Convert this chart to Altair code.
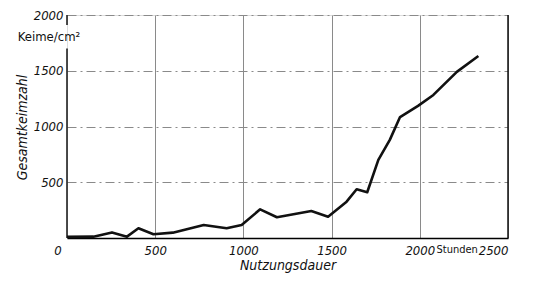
import altair as alt
import pandas as pd

# Data
hours = [0, 150, 255, 340, 405, 490, 600, 775, 905, 990, 1095, 1190, 1385, 1480, 1585, 1642, 1702, 1765, 1830, 1888, 1990, 2077, 2210, 2332]
counts = [10, 12, 50, 12, 87, 33, 48, 117, 87, 117, 257, 186, 242, 191, 326, 437, 410, 700, 880, 1085, 1185, 1283, 1490, 1632]

x_ticks = [500, 1000, 1500, 2000, 2500]
y_ticks = [500, 1000, 1500, 2000]

FONT = "DejaVu Sans Condensed, Liberation Sans, sans-serif"
FS = 13

df = pd.DataFrame({"h": hours, "k": counts})

xs = alt.Scale(domain=[0, 2500], nice=False)
ys = alt.Scale(domain=[0, 2000], nice=False)

xaxis = alt.Axis(values=x_ticks, format="d", grid=True, gridColor="#8a8a8a", gridWidth=1,
                 domain=True, domainColor="#000", domainWidth=1.5, ticks=False,
                 labelFont=FONT, labelFontStyle="italic", labelFontSize=FS, labelColor="#111",
                 labelPadding=6, title="Nutzungsdauer", titleFont=FONT,
                 titleFontStyle="italic", titleFontWeight="normal", titleFontSize=14,
                 titleColor="#111", titleBaseline="middle", titleY=27)
yaxis = alt.Axis(values=y_ticks, format="d", grid=True, gridColor="#8a8a8a", gridWidth=1,
                 gridDash=[9, 4, 2, 4], domain=False, ticks=False,
                 labelFont=FONT, labelFontStyle="italic", labelFontSize=FS, labelColor="#111",
                 labelPadding=4, labelBaseline="middle", title="Gesamtkeimzahl", titleFont=FONT,
                 titleFontStyle="italic", titleFontWeight="normal", titleFontSize=14,
                 titleColor="#111", titleX=-45, titleY=112, titleBaseline="middle",
                 titleAlign="center")

line = alt.Chart(df).mark_line(color="#111", strokeWidth=2.6, strokeJoin="round").encode(
    x=alt.X("h:Q", scale=xs, axis=xaxis),
    y=alt.Y("k:Q", scale=ys, axis=yaxis),
)

# Left axis segments and right border
seg_df = pd.DataFrame({"x": [0, 0, 2500], "y1": [0, 1910, 0], "y2": [1700, 2000, 2000]})
segs = alt.Chart(seg_df).mark_rule(color="#111", strokeWidth=1.5).encode(
    x=alt.X("x:Q", scale=xs), y=alt.Y("y1:Q", scale=ys), y2="y2:Q")

txt_df = pd.DataFrame({"x": [0], "y": [0], "t": ["0"]})
zero = alt.Chart(txt_df).mark_text(font=FONT, fontStyle="italic", fontSize=FS, color="#111",
                                   dx=-9, dy=13, baseline="middle").encode(
    x=alt.X("x:Q", scale=xs), y=alt.Y("y:Q", scale=ys), text="t:N")

unit_df = pd.DataFrame({"x": [2212], "y": [0], "t": ["Stunden"]})
unit = alt.Chart(unit_df).mark_text(font=FONT, fontSize=11, color="#111",
                                    dy=12, baseline="middle").encode(
    x=alt.X("x:Q", scale=xs), y=alt.Y("y:Q", scale=ys), text="t:N")

keime_df = pd.DataFrame({"x": [0], "y": [2000], "t": ["Keime/cm²"]})
keime = alt.Chart(keime_df).mark_text(font=FONT, fontSize=13, color="#111",
                                      dx=-18, dy=22, baseline="middle").encode(
    x=alt.X("x:Q", scale=xs), y=alt.Y("y:Q", scale=ys), text="t:N")

chart = alt.layer(line, segs, zero, unit, keime).properties(
    width=441, height=223,
    autosize=alt.AutoSizeParams(type="none"),
    padding={"left": 59, "top": 7, "right": 21, "bottom": 35},
).configure_view(stroke=None).configure(background="white")

chart.save("out.html", embed_options={"renderer": "svg", "actions": False})
